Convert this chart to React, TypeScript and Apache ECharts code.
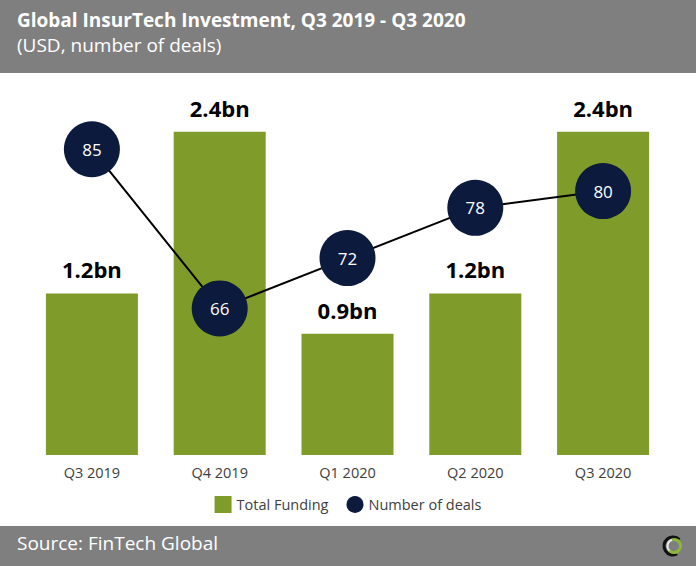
import React, { useEffect, useRef } from "react";
import * as echarts from "echarts";

const categories = ["Q3 2019", "Q4 2019", "Q1 2020", "Q2 2020", "Q3 2020"];
const totalFunding = [1.2, 2.4, 0.9, 1.2, 2.4];
const numberOfDeals = [85, 66, 72, 78, 80];
const titleText = "Global InsurTech Investment, Q3 2019 - Q3 2020";
const subtitleText = "(USD, number of deals)";
const sourceText = "Source: FinTech Global";

const FONT = "'Open Sans', 'Noto Sans', sans-serif";
const GREEN = "#7f9c2a";
const NAVY = "#0c1a3d";
const BANNER = "#7f7f7f";

export default function App() {
  const ref = useRef<HTMLDivElement>(null);
  useEffect(() => {
    document.body.style.margin = "0";
    if (!ref.current) return;
    const chart = echarts.init(ref.current, null, { renderer: "svg" });
    chart.setOption({
      animation: false,
      backgroundColor: "#ffffff",
      textStyle: { fontFamily: FONT },
      grid: { left: 28, right: 29, top: 78, bottom: 111 },
      legend: {
        left: "center",
        top: 491,
        itemWidth: 17,
        itemHeight: 17,
        itemGap: 18,
        textStyle: { fontFamily: FONT, fontSize: 14.5, color: "#404040" },
        data: [
          { name: "Total Funding", icon: "rect" },
          { name: "Number of deals", icon: "circle" },
        ],
      },
      xAxis: {
        type: "category",
        data: categories,
        axisLine: { show: false },
        axisTick: { show: false },
        axisLabel: { color: "#404040", fontSize: 14.5, margin: 10, fontFamily: FONT },
      },
      yAxis: [
        { type: "value", min: 0, max: 2.8, show: false, splitLine: { show: false } },
        { type: "value", min: 48.5, max: 93.5, show: false, splitLine: { show: false } },
      ],
      series: [
        {
          name: "Total Funding",
          type: "bar",
          data: totalFunding,
          barWidth: "72%",
          itemStyle: { color: GREEN },
          label: {
            show: true,
            position: "top",
            distance: 13,
            formatter: "{c}bn",
            fontSize: 22,
            fontWeight: "bold",
            color: "#000000",
            fontFamily: FONT,
          },
          z: 2,
        },
        {
          name: "Number of deals",
          type: "line",
          yAxisIndex: 1,
          data: numberOfDeals,
          symbol: "circle",
          symbolSize: 56,
          itemStyle: { color: NAVY },
          lineStyle: { color: "#000000", width: 2 },
          label: {
            show: true,
            position: "inside",
            color: "#ffffff",
            fontSize: 17,
            fontFamily: FONT,
          },
          z: 5,
        },
      ],
      graphic: [
        { type: "rect", left: 0, top: 0, shape: { width: 696, height: 73 }, style: { fill: BANNER }, silent: true },
        {
          type: "text",
          left: 17,
          top: 10,
          style: { text: titleText, fill: "#ffffff", font: `bold 19px ${FONT}` },
        },
        {
          type: "text",
          left: 17,
          top: 35,
          style: { text: subtitleText, fill: "#ffffff", font: `19px ${FONT}` },
        },
        { type: "rect", left: 0, top: 526, shape: { width: 696, height: 40 }, style: { fill: BANNER }, silent: true },
        {
          type: "text",
          left: 17,
          top: 533,
          style: { text: sourceText, fill: "#ffffff", font: `19px ${FONT}` },
        },
        {
          type: "arc",
          shape: { cx: 673, cy: 546, r: 9, startAngle: Math.PI * 0.35, endAngle: Math.PI * 1.75 },
          style: { stroke: "#111111", lineWidth: 3, fill: "none" },
        },
        {
          type: "arc",
          shape: { cx: 674, cy: 546, r: 6.5, startAngle: -Math.PI * 0.6, endAngle: Math.PI * 0.75 },
          style: { stroke: "#8db83a", lineWidth: 3, fill: "none" },
        },
        {
          type: "arc",
          shape: { cx: 674, cy: 546, r: 6.5, startAngle: Math.PI * 0.75, endAngle: Math.PI * 1.4 },
          style: { stroke: "#e8e8e8", lineWidth: 2, fill: "none" },
        },
      ],
    });
    return () => chart.dispose();
  }, []);
  return (
    <div
      ref={ref}
      style={{ width: 696, height: 566, position: "fixed", left: 0, top: 0 }}
    />
  );
}
